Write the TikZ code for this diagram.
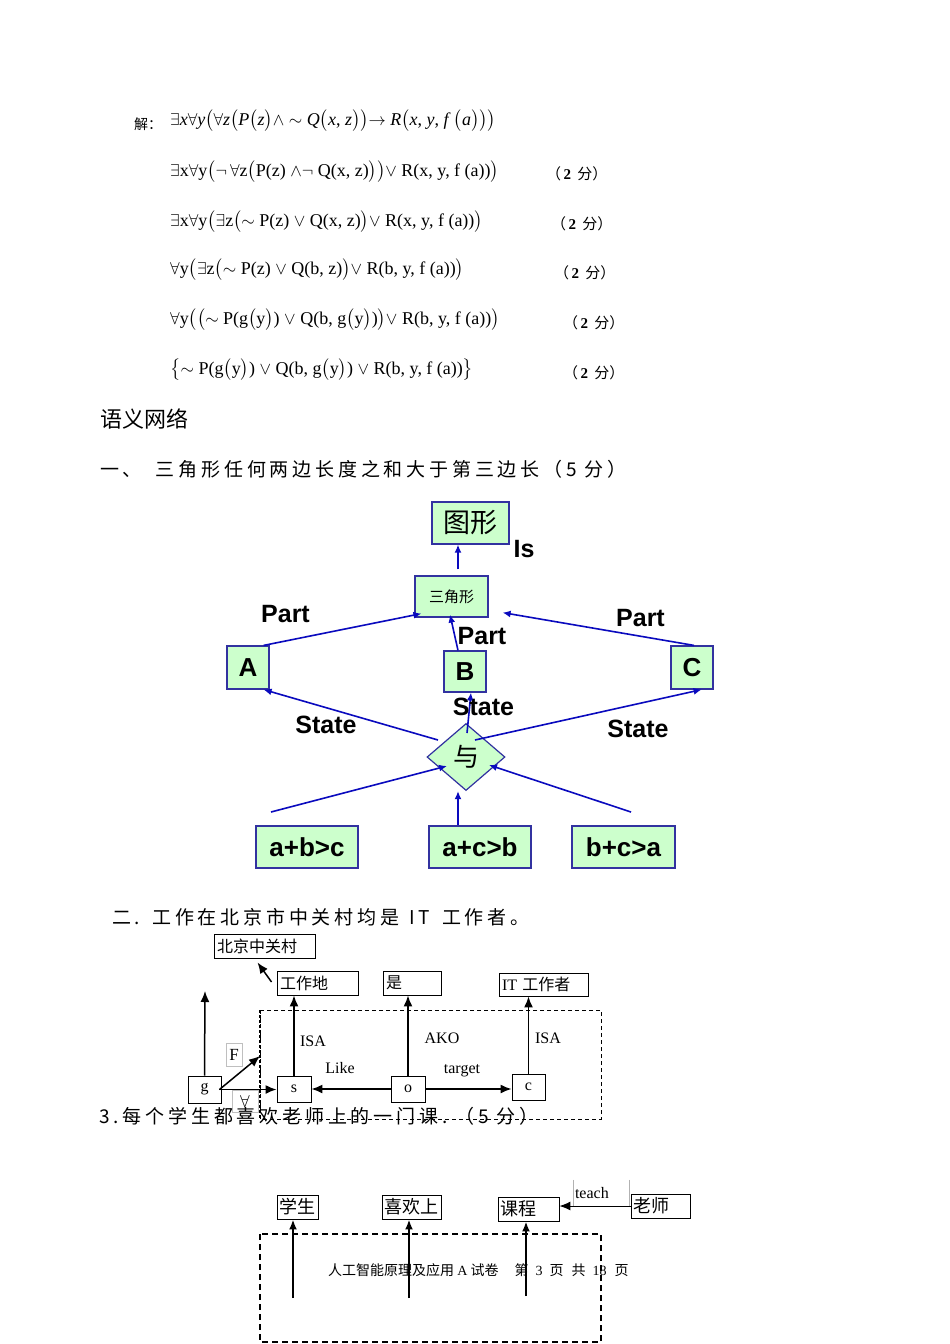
\documentclass[tikz,border=0pt]{standalone}
\usepackage{amsmath,amssymb}
\usepackage{fontspec}
\setmainfont{Liberation Serif}
\newfontfamily\cjk{Noto Sans CJK SC}
\newfontfamily\cjkls[LetterSpace=20]{Noto Sans CJK SC}
\newfontfamily\arb{Liberation Sans}
\usetikzlibrary{arrows.meta,shapes.geometric}
\definecolor{bl}{RGB}{10,10,190}
\definecolor{bb}{RGB}{50,50,160}
\definecolor{gf}{RGB}{204,255,204}
\newcommand{\fs}[1]{\fontsize{#1}{#1}\selectfont}
\newcommand{\fen}{{\cjk （}\,\textbf{2}\, {\cjk 分）}}
\begin{document}
\begin{tikzpicture}[x=1pt,y=-1pt,
  gbox/.style={draw=bb, fill=gf, line width=1.2pt, inner sep=0pt, font=\arb\bfseries\fs{26}},
  barrow/.style={draw=bl, line width=1.6pt, -{Latex[length=8pt,width=7pt]}},
  lbl/.style={font=\arb\bfseries\fs{25}},
  wbox/.style={draw=black, line width=0.9pt, inner xsep=2pt, inner ysep=0pt, font=\cjk\fs{16}},
  kbox/.style={draw=black, line width=0.9pt, inner sep=0pt, font=\fs{16}},
  karrow/.style={draw=black, line width=1.5pt, -{Latex[length=11pt,width=9pt]}},
  tarrow/.style={draw=black, line width=2.4pt, -{Latex[length=10pt,width=8pt]}},
  slbl/.style={font=\fs{16}, inner sep=0pt},
  frm/.style={anchor=west, inner sep=0pt, font=\fs{18}},
  fen/.style={anchor=west, inner sep=0pt, font=\fs{15}},
  head/.style={anchor=west, inner sep=0pt, font=\cjkls\fs{19}},
  gray box/.style={draw=gray!50, line width=0.6pt, inner sep=0pt, font=\fs{17}}
]
\useasboundingbox[fill=white] (0,0) rectangle (950,1344);

% ---------- formulas ----------
\node[anchor=west, inner sep=0pt, font=\cjk\fs{14}] (jie) at (134,124) {解：};
\node[frm] (f1) at (170,121) {$\exists$\textit{x}$\forall$\textit{y}$\bigl($$\forall$\textit{z}$\bigl($\textit{P}$\bigl($\textit{z}$\bigr)$$\wedge$ $\sim$ \textit{Q}$\bigl($\textit{x}, \textit{z}$\bigr)\bigr)$$\rightarrow$ \textit{R}$\bigl($\textit{x}, \textit{y}, \textit{f}\,$\bigl($\textit{a}$\bigr)\bigr)\bigr)$};
\node[frm] (f2) at (170,172) {$\exists$x$\forall$y$\bigl($$\neg\,\forall$z$\bigl($P(z) $\wedge\neg$ Q(x, z)$\bigr)\bigr)$$\vee$ R(x, y, f (a))$\bigr)$};
\node[frm] (f3) at (170,222) {$\exists$x$\forall$y$\bigl($$\exists$z$\bigl($$\sim$ P(z) $\vee$ Q(x, z)$\bigr)$$\vee$ R(x, y, f (a))$\bigr)$};
\node[frm] (f4) at (170,270) {$\forall$y$\bigl($$\exists$z$\bigl($$\sim$ P(z) $\vee$ Q(b, z)$\bigr)$$\vee$ R(b, y, f (a))$\bigr)$};
\node[frm] (f5) at (170,320) {$\forall$y$\bigl(\bigl($$\sim$ P(g$\bigl($y$\bigr)$) $\vee$ Q(b, g$\bigl($y$\bigr)$)$\bigr)$$\vee$ R(b, y, f (a))$\bigr)$};
\node[frm] (f6) at (170,370) {$\bigl\{$$\sim$ P(g$\bigl($y$\bigr)$) $\vee$ Q(b, g$\bigl($y$\bigr)$) $\vee$ R(b, y, f (a))$\bigr\}$};
\node[fen] (s2) at (546,174) {\fen};
\node[fen] (s3) at (551,224) {\fen};
\node[fen] (s4) at (554,273) {\fen};
\node[fen] (s5) at (563,323) {\fen};
\node[fen] (s6) at (563,373) {\fen};

% ---------- headings ----------
\node[anchor=west, inner sep=0pt, font=\cjk\fs{22}] (yy) at (100,419) {语义网络};
\node[head] (h1) at (100,469) {一、\hspace{14pt}三角形任何两边长度之和大于第三边长（5 分）};

% ---------- semantic net 1 ----------
\node[gbox, minimum width=77, minimum height=42, font=\cjk\fs{27}] (tx) at (470.5,523) {图形};
\node[gbox, minimum width=73, minimum height=41, font=\cjk\fs{15}] (sjx) at (451.5,596.5) {三角形};
\node[gbox, minimum width=42, minimum height=43] (A) at (248,667.5) {A};
\node[gbox, minimum width=42, minimum height=41] (B) at (465,671.5) {B};
\node[gbox, minimum width=42, minimum height=43] (C) at (692,667.5) {C};
\node[gbox, diamond, minimum width=78, minimum height=67, font=\cjk\fs{26}] (yu) at (466,757) {与};
\node[gbox, minimum width=102, minimum height=42] (abc) at (307,847) {a+b>c};
\node[gbox, minimum width=102, minimum height=42] (acb) at (480,847) {a+c>b};
\node[gbox, minimum width=103, minimum height=42] (bca) at (623.5,847) {b+c>a};

\coordinate (p1) at (271,812);
\coordinate (p2) at (458,825);
\coordinate (p3) at (631,812);

\draw[barrow] ([xshift=6.5pt,yshift=6pt]sjx.north) -- ([xshift=-12.5pt]tx.south);
\draw[barrow] ([xshift=-6pt]A.north east) -- ([xshift=7pt,yshift=4pt]sjx.south west);
\draw[barrow] ([xshift=-7pt]B.north) -- ([xshift=-1.5pt,yshift=3pt]sjx.south);
\draw[barrow] ([xshift=2pt]C.north) -- ([xshift=14pt,yshift=5pt]sjx.south east);
\draw[barrow] ([xshift=-28pt,yshift=17pt]yu.center) -- ([xshift=-6pt]A.south east);
\draw[barrow] ([xshift=1pt,yshift=24pt]yu.center) -- ([xshift=6pt]B.south);
\draw[barrow] ([xshift=9pt,yshift=17pt]yu.center) -- ([xshift=-12pt]C.south east);
\draw[barrow] (p1) -- ([xshift=-19pt,yshift=-9pt]yu.center);
\draw[barrow] (p2) -- ([xshift=-8pt]yu.south);
\draw[barrow] (p3) -- ([xshift=23pt,yshift=-8pt]yu.center);

\node[lbl] (lis) at (524,549) {Is};
\node[lbl] (lpa) at (285.5,614) {Part};
\node[lbl] (lpb) at (482,636) {Part};
\node[lbl] (lpc) at (640.5,618) {Part};
\node[lbl] (lsa) at (326,725) {State};
\node[lbl] (lsb) at (483.5,707) {State};
\node[lbl] (lsc) at (638,729) {State};

% ---------- semantic net 2 ----------
\node[head] (h2) at (112,917) {二.\hspace{12pt}工作在北京市中关村均是\hspace{10pt}IT\hspace{12pt}工作者。};

\node[wbox, minimum width=101, minimum height=24, text width=95, align=left] (bj) at (264.5,946) {北京中关村};
\node[wbox, minimum width=81, minimum height=24, text width=75, align=left] (gzd) at (317.5,983) {工作地};
\node[wbox, minimum width=58, minimum height=24, text width=52, align=left] (shi) at (412,983) {是};
\node[wbox, minimum width=89, minimum height=23, text width=83, align=left] (itg) at (543.5,984.5) {{\rmfamily IT} 工作者};
\node[kbox, minimum width=33, minimum height=27] (g) at (204.5,1089.5) {g};
\node[kbox, minimum width=34, minimum height=26] (s) at (294,1089) {s};
\node[kbox, minimum width=34, minimum height=26] (o) at (408,1089) {o};
\node[kbox, minimum width=33, minimum height=26] (c) at (528.5,1087) {c};
\node[gray box, minimum width=16, minimum height=23] (F) at (234,1054.5) {F};
\node[gray box, minimum width=26, minimum height=22, anchor=north] (fa) at (245,1090) {$\forall$};

\draw[dash pattern=on 4pt off 3pt, line width=0.8pt] (260,1010) rectangle (601,1119);
\draw[dash pattern=on 3pt off 2pt, line width=1.8pt] (260,1010) -- (260,1119);

\coordinate (gtop) at (205,991);
\coordinate (fend) at (260,1056);
\draw[karrow] ([xshift=-5pt,yshift=1pt]gzd.west) -- ([xshift=-7pt,yshift=-4pt]bj.south);
\draw[karrow] (g.north) -- (gtop);
\draw[karrow] (s.north) -- (s.north |- gzd.south);
\draw[karrow] (o.north) -- (o.north |- shi.south);
\draw[karrow] (c.north) -- (c.north |- itg.south);
\draw[karrow] ([xshift=-2pt]g.east) -- (s.west |- g.east);
\draw[karrow] ([xshift=-2pt]g.east) -- (fend);
\draw[karrow] (o.west) -- (s.east);
\draw[karrow] (o.east) -- (c.west |- o.east);

\node[slbl] (isa1) at (313,1041) {ISA};
\node[slbl] (like) at (340,1068) {Like};
\node[slbl] (ako) at (442,1038) {AKO};
\node[slbl] (tgt) at (462,1071) {target};
\node[slbl] (isa2) at (548,1038) {ISA};

% ---------- semantic net 3 ----------
\node[head] (h3) at (99,1116) {3.\hspace{4pt}每个学生都喜欢老师上的一门课.\hspace{8pt}（5 分）};

\node[wbox, font=\cjk\fs{18}, minimum width=41, minimum height=24, text width=37, align=left] (xs) at (297.5,1207) {学生};
\node[wbox, font=\cjk\fs{18}, minimum width=59, minimum height=24, text width=55, align=left] (xh) at (411.5,1207) {喜欢上};
\node[wbox, font=\cjk\fs{18}, minimum width=61, minimum height=24, text width=57, align=left] (kc) at (528.5,1209) {课程};
\node[wbox, font=\cjk\fs{18}, minimum width=59, minimum height=24, text width=55, align=left] (ls) at (660.5,1206) {老师};
\node[font=\fs{16}, minimum width=56, minimum height=27, text width=52, align=left, inner xsep=2pt, inner ysep=0pt] (teach) at (601,1193.5) {teach};
\draw[gray!60, line width=0.6pt] (teach.north west) -- (teach.south west) (teach.north east) -- (teach.south east);

\draw[dash pattern=on 6pt off 4pt, line width=1.5pt] (260,1234) rectangle (601,1342);

\coordinate (q1) at (293,1298);
\coordinate (q2) at (409,1298);
\coordinate (q3) at (526,1296);
\draw[tarrow] (q1) -- (q1 |- xs.south);
\draw[tarrow] (q2) -- (q2 |- xh.south);
\draw[tarrow] (q3) -- (q3 |- kc.south);
\draw[karrow, line width=1pt] (ls.west) -- (kc.east |- ls.west);

\node[anchor=west, inner sep=0pt, font=\cjk\fs{14}] (foot) at (328,1270) {人工智能原理及应用 {\rmfamily A} 试卷\hspace{16pt}第\hspace{7pt}{\rmfamily 3}\hspace{7pt}页\hspace{8pt}共\hspace{7pt}{\rmfamily 18}\hspace{8pt}页};
\end{tikzpicture}
\end{document}
